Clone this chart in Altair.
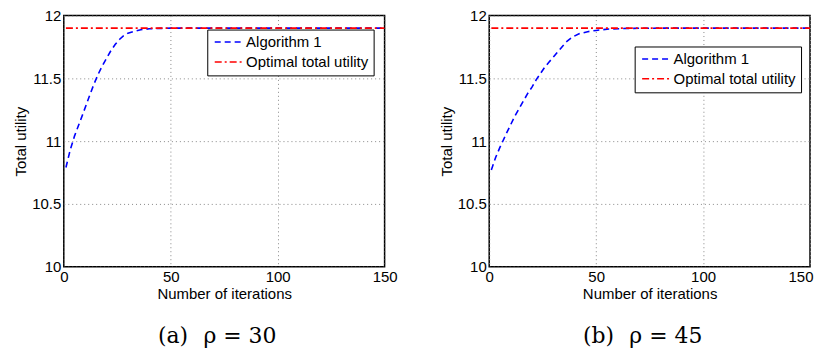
import altair as alt
import pandas as pd

# ---- data ----
series_names = ["Algorithm 1", "Optimal total utility"]

iter_a = [1, 3, 5, 7, 9, 12, 14, 16, 18, 20, 22, 24, 26, 28, 30, 33, 36, 40, 45, 50, 60, 80, 100, 120, 150]
util_a = [10.79, 10.93, 11.04, 11.13, 11.22, 11.36, 11.45, 11.53, 11.60, 11.66, 11.72, 11.77, 11.81, 11.84, 11.86, 11.875, 11.888, 11.895, 11.898, 11.9, 11.9, 11.9, 11.9, 11.9, 11.9]

iter_b = [1, 3, 5, 8, 10, 12, 14, 16, 18, 20, 22, 24, 26, 28, 30, 33, 36, 39, 42, 46, 50, 56, 65, 80, 100, 150]
util_b = [10.77, 10.87, 10.95, 11.06, 11.13, 11.20, 11.26, 11.32, 11.38, 11.43, 11.49, 11.54, 11.59, 11.63, 11.67, 11.73, 11.79, 11.83, 11.855, 11.872, 11.882, 11.893, 11.898, 11.9, 11.9, 11.9]

optimal_a = 11.9
optimal_b = 11.9
optimal_start = 1
optimal_end = 150

x_ticks = [0, 50, 100, 150]
y_ticks = [10, 10.5, 11, 11.5, 12]

subtitles = ["(a)\u2002\u2009ρ = 30", "(b)\u2002\u2009ρ = 45"]

SANS = "Liberation Sans"
SERIF = "DejaVu Serif"

LINE_SYMBOL = "M-1,0H5"


def legend(lx, ly):
    return alt.Legend(
        title=None, orient="none", legendX=lx, legendY=ly,
        symbolType=LINE_SYMBOL, symbolSize=100, symbolStrokeWidth=1.5,
        labelFont=SANS, labelFontSize=15, labelColor="black",
        strokeColor="black", fillColor="white", padding=5,
        rowPadding=4, labelOffset=19, cornerRadius=0,
    )


def panel(iters, utils, opt, subtitle, lx, ly, last_label_inside=False):
    df = pd.DataFrame({
        "iter": list(iters) + [optimal_start, optimal_end],
        "util": list(utils) + [opt, opt],
        "series": [series_names[0]] * len(iters) + [series_names[1]] * 2,
    })
    x_axis_kw = dict(values=x_ticks, titlePadding=2, labelPadding=3)
    if last_label_inside:
        x_axis_kw["labelAlign"] = {"condition": {"test": "datum.value == 150", "value": "right"},
                                   "value": "center"}
        x_axis_kw["labelOffset"] = {"condition": {"test": "datum.value == 150", "value": 3},
                                    "value": 0}
    return alt.Chart(df).mark_line(strokeWidth=1.6, clip=True).encode(
        x=alt.X("iter:Q", title="Number of iterations",
                scale=alt.Scale(domain=[0, 150], nice=False),
                axis=alt.Axis(**x_axis_kw)),
        y=alt.Y("util:Q", title="Total utility",
                scale=alt.Scale(domain=[10, 12], nice=False, zero=False),
                axis=alt.Axis(values=y_ticks, format="~g", titlePadding=3, labelPadding=3)),
        color=alt.Color("series:N",
                        scale=alt.Scale(domain=series_names, range=["#0000ff", "#ff0000"]),
                        legend=legend(lx, ly)),
        strokeDash=alt.StrokeDash("series:N",
                                  scale=alt.Scale(domain=series_names, range=[[6, 4], [7, 3, 2, 3]]),
                                  legend=legend(lx, ly)),
        order="iter:Q",
    ).properties(
        width=322, height=252,
        title=alt.TitleParams(subtitle, orient="bottom", font=SERIF, fontSize=22,
                              fontWeight="normal", color="black", offset=25,
                              anchor="middle", frame="group", dx=-7),
    )


pa = panel(iter_a, util_a, optimal_a, subtitles[0], 144, 14)
pb = panel(iter_b, util_b, optimal_b, subtitles[1], 146, 31, last_label_inside=True)

chart = alt.hconcat(pa, pb, spacing=40).resolve_scale(
    color="independent", strokeDash="independent"
).resolve_legend(color="independent", strokeDash="independent").configure(
    padding={"left": 5, "top": -1, "right": 0, "bottom": 0},
).configure_view(
    stroke="black", strokeWidth=1.5
).configure_axis(
    domain=False, ticks=False,
    grid=True, gridColor="#888888", gridDash=[1, 3], gridWidth=1,
    labelFont=SANS, labelFontSize=15, labelColor="black",
    titleFont=SANS, titleFontSize=15, titleFontWeight="normal", titleColor="black",
    labelFlush=False,
)

chart.save("out.html", embed_options={"renderer": "svg", "actions": False})
